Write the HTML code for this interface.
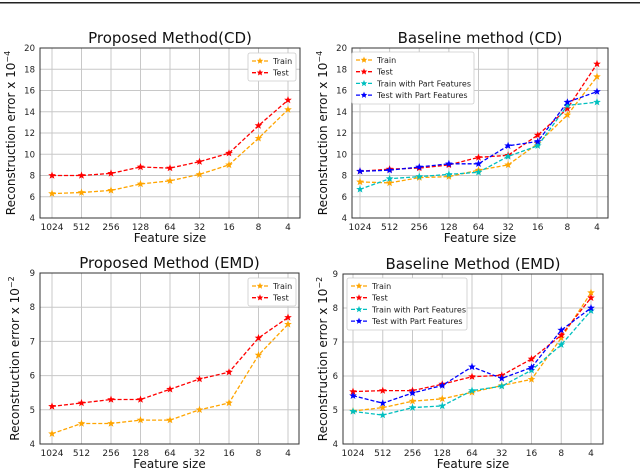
<!DOCTYPE html>
<html><head><meta charset="utf-8"><style>
body{margin:0;background:#fff;width:640px;height:469px;overflow:hidden;font-family:"Liberation Sans","DejaVu Sans",sans-serif}
</style></head><body>
<svg id="fig" width="640" height="469" xmlns="http://www.w3.org/2000/svg" font-family="'DejaVu Sans','Liberation Sans',sans-serif">
<rect x="0" y="2" width="640" height="1.5" fill="#222"/>
</svg>
<script>
const categories=["1024","512","256","128","64","32","16","8","4"];
const cdTicks=[4,6,8,10,12,14,16,18,20];
const emdTicks=[4,5,6,7,8,9];
const pcdTrain=[6.3,6.4,6.6,7.2,7.5,8.1,9.0,11.5,14.2];
const pcdTest=[8.0,8.0,8.2,8.8,8.7,9.3,10.1,12.7,15.1];
const bcdTrain=[7.4,7.3,7.8,7.9,8.5,9.0,11.0,13.7,17.3];
const bcdTest=[8.4,8.6,8.7,9.0,9.7,9.9,11.8,14.3,18.5];
const bcdTrainPF=[6.7,7.7,7.9,8.1,8.3,9.8,10.8,14.6,14.9];
const bcdTestPF=[8.4,8.5,8.8,9.1,9.1,10.8,11.2,14.9,15.9];
const pemdTrain=[4.3,4.6,4.6,4.7,4.7,5.0,5.2,6.6,7.5];
const pemdTest=[5.1,5.2,5.3,5.3,5.6,5.9,6.1,7.1,7.7];
const bemdTrain=[4.97,5.07,5.26,5.33,5.52,5.72,5.9,7.12,8.45];
const bemdTest=[5.54,5.57,5.57,5.76,5.98,6.02,6.5,7.2,8.3];
const bemdTrainPF=[4.96,4.85,5.07,5.12,5.57,5.7,6.17,6.92,7.92];
const bemdTestPF=[5.42,5.2,5.5,5.72,6.27,5.93,6.25,7.35,8.0];

const NS="http://www.w3.org/2000/svg";
const svg=document.getElementById('fig');
function mk(tag,attrs,parent,text){const e=document.createElementNS(NS,tag);for(const k in attrs)e.setAttribute(k,attrs[k]);if(text!==undefined)e.textContent=text;(parent||svg).appendChild(e);return e;}
function starPts(cx,cy,r){let p=[];for(let i=0;i<10;i++){const a=-Math.PI/2+i*Math.PI/5;const rr=i%2?r*0.42:r;p.push((cx+rr*Math.cos(a)).toFixed(1)+","+(cy+rr*Math.sin(a)).toFixed(1));}return p.join(" ");}
const COL={train:"#ffa500",test:"#ff0000",trainPF:"#00bfbf",testPF:"#0000ff"};

function chart(id,c){
  const g=mk('g',{});
  
  
  const ymin=c.ticks[0],ymax=c.ticks[c.ticks.length-1];
  const sx=i=>c.px0+i*(c.px1-c.px0)/(categories.length-1);
  const sy=v=>c.y1-(v-ymin)/(ymax-ymin)*(c.y1-c.y0);
  categories.forEach((lab,i)=>{
    const gl=mk('line',{x1:sx(i),x2:sx(i),y1:c.y0,y2:c.y1,stroke:"#c8c8c8","stroke-width":1},g);
    
    const t=mk('text',{x:sx(i),y:c.y1+12,"font-size":9,"text-anchor":"middle",fill:"#222"},g,lab);
    
  });
  c.ticks.forEach(v=>{
    const gl=mk('line',{x1:c.x0,x2:c.x1,y1:sy(v),y2:sy(v),stroke:"#c8c8c8","stroke-width":1},g);
    
    const t=mk('text',{x:c.x0-5,y:sy(v)+3,"font-size":8.5,"text-anchor":"end",fill:"#222"},g,String(v));
    
  });
  const fr=mk('rect',{x:c.x0,y:c.y0,width:c.x1-c.x0,height:c.y1-c.y0,fill:"none",stroke:"#333","stroke-width":1},g);
  
  c.series.forEach(s=>{
    const pts=s.data.map((v,i)=>sx(i).toFixed(1)+","+sy(v).toFixed(1)).join(" ");
    const pl=mk('polyline',{points:pts,fill:"none",stroke:s.color,"stroke-width":1.3,"stroke-dasharray":"4,2"},g);
    
    s.data.forEach((v,i)=>{
      const m=mk('polygon',{points:starPts(sx(i),sy(v),4),fill:s.color},g);
      
    });
  });
  const L=c.legend;
  const lb=mk('rect',{x:L.x,y:L.y,width:L.w,height:12*c.series.length+4,fill:"#fff",stroke:"#ccc","stroke-width":0.8,rx:2},g);
  
  c.series.forEach((s,k)=>{
    const yy=L.y+8+k*11.7;
    mk('line',{x1:L.x+4,x2:L.x+20,y1:yy,y2:yy,stroke:s.color,"stroke-width":1.3,"stroke-dasharray":"4,2"},g);
    mk('polygon',{points:starPts(L.x+12,yy,3.5),fill:s.color},g);
    const t=mk('text',{x:L.x+25,y:yy+3,"font-size":8,fill:"#222"},g,s.label);
    
  });
  const ti=mk('text',{x:(c.x0+c.x1)/2,y:c.y0-5,"font-size":15,"text-anchor":"middle",fill:"#111"},g,c.title);
  
  const xl=mk('text',{x:(c.x0+c.x1)/2,y:c.y1+24,"font-size":12,"text-anchor":"middle",fill:"#111"},g,"Feature size");
  
  const yc=(c.y0+c.y1)/2;
  const yl=mk('text',{x:c.yl,y:yc,"font-size":12,"text-anchor":"middle",fill:"#111",transform:`rotate(-90 ${c.yl} ${yc})`},g);
  
  mk('tspan',{},yl,"Reconstruction error x 10");
  mk('tspan',{dy:-5,"font-size":8},yl,c.exp);
}
const tr={key:"train",label:"Train",color:COL.train},te={key:"test",label:"Test",color:COL.test};
chart('chart-proposed-cd',{x0:40,x1:300,y0:48,y1:218,px0:52,px1:288,ticks:cdTicks,title:"Proposed Method(CD)",exp:"−4",yl:15,
  legend:{x:248,y:53,w:48},series:[{...tr,data:pcdTrain},{...te,data:pcdTest}]});
chart('chart-baseline-cd',{x0:352,x1:608,y0:48,y1:218,px0:360,px1:597,ticks:cdTicks,title:"Baseline method (CD)",exp:"−4",yl:327,
  legend:{x:352,y:52,w:122},series:[{...tr,data:bcdTrain},{...te,data:bcdTest},{key:"train-pf",label:"Train with Part Features",color:COL.trainPF,data:bcdTrainPF},{key:"test-pf",label:"Test with Part Features",color:COL.testPF,data:bcdTestPF}]});
chart('chart-proposed-emd',{x0:40,x1:299,y0:273,y1:444,px0:52,px1:288,ticks:emdTicks,title:"Proposed Method (EMD)",exp:"−2",yl:19,
  legend:{x:248,y:278,w:48},series:[{...tr,data:pemdTrain},{...te,data:pemdTest}]});
chart('chart-baseline-emd',{x0:343,x1:603,y0:274,y1:444,px0:353,px1:591,ticks:emdTicks,title:"Baseline Method (EMD)",exp:"−2",yl:327,
  legend:{x:347,y:278,w:120},series:[{...tr,data:bemdTrain},{...te,data:bemdTest},{key:"train-pf",label:"Train with Part Features",color:COL.trainPF,data:bemdTrainPF},{key:"test-pf",label:"Test with Part Features",color:COL.testPF,data:bemdTestPF}]});
</script>
</body></html>
